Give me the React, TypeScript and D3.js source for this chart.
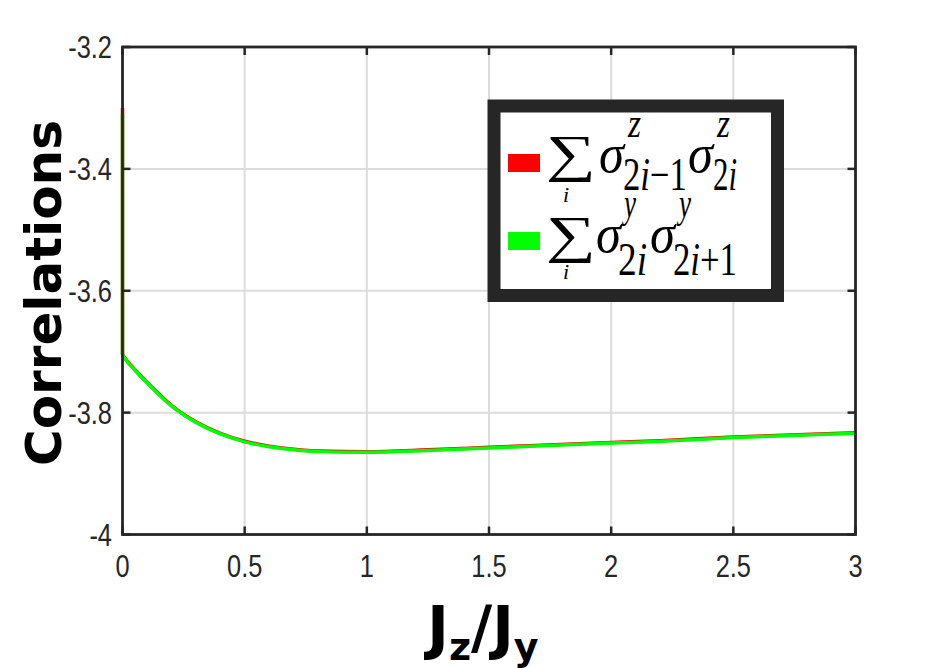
import React from "react";
import * as d3 from "d3";

const xTicks = [0, 0.5, 1, 1.5, 2, 2.5, 3];
const xTickLabels = ["0", "0.5", "1", "1.5", "2", "2.5", "3"];
const yTicks = [-4, -3.8, -3.6, -3.4, -3.2];
const yTickLabels = ["-4", "-3.8", "-3.6", "-3.4", "-3.2"];

const xs = [0, 0, 0.025, 0.05, 0.075, 0.1, 0.15, 0.2, 0.3, 0.4, 0.5, 0.6, 0.7, 0.8, 1.0, 1.25, 1.5, 2.0, 2.2, 2.5, 3.0];
const zzCorr = [-3.30, -3.705, -3.718, -3.729, -3.740, -3.750, -3.770, -3.788, -3.815, -3.834, -3.847, -3.855, -3.860, -3.863, -3.864, -3.861, -3.857, -3.849, -3.846, -3.840, -3.833];
const yyCorr = [-3.31, -3.706, -3.719, -3.730, -3.741, -3.751, -3.771, -3.789, -3.816, -3.835, -3.848, -3.856, -3.861, -3.864, -3.865, -3.862, -3.858, -3.850, -3.847, -3.841, -3.834];

const W = 945;
const H = 668;
const left = 122.5;
const right = 855.5;
const top = 47;
const bottom = 534.5;
const axisColor = "#262626";
const gridColor = "#dcdcdc";
const tickFont = "'Liberation Sans', Arial, sans-serif";
const mathFont = "'Liberation Serif', 'DejaVu Serif', serif";
const SA = "spacingAndGlyphs";

export default function App() {
  const x = d3.scaleLinear().domain([0, 3]).range([left, right]);
  const y = d3.scaleLinear().domain([-4, -3.2]).range([bottom, top]);
  const idx = xs.map((_, i) => i);
  const vLine = (vals: number[]) =>
    d3
      .line<number>()
      .x((i) => x(xs[i]))
      .y((i) => y(vals[i]))(idx.slice(0, 2)) || "";
  const cLine = (vals: number[]) =>
    d3
      .line<number>()
      .x((i) => x(xs[i]))
      .y((i) => y(vals[i]))
      .curve(d3.curveMonotoneX)(idx.slice(1)) || "";
  const tl = 8;

  return (
    <svg width={W} height={H} style={{ position: "absolute", left: 0, top: 0, background: "#fff" }}>
      <rect x={0} y={0} width={W} height={H} fill="#fff" />
      {/* grid */}
      {xTicks.map((t) => (
        <line key={"gx" + t} x1={x(t)} x2={x(t)} y1={top} y2={bottom} stroke={gridColor} strokeWidth={2} />
      ))}
      {yTicks.map((t) => (
        <line key={"gy" + t} x1={left} x2={right} y1={y(t)} y2={y(t)} stroke={gridColor} strokeWidth={2} />
      ))}
      {/* lines */}
      <path d={vLine(zzCorr)} fill="none" stroke="#ff0000" strokeWidth={3.5} />
      <path d={cLine(zzCorr)} fill="none" stroke="#ff0000" strokeWidth={3.5} strokeLinejoin="round" />
      <path d={vLine(yyCorr)} fill="none" stroke="#00ff00" strokeWidth={3.5} />
      <path d={cLine(yyCorr)} fill="none" stroke="#00ff00" strokeWidth={3.5} strokeLinejoin="round" />
      {/* ticks */}
      {xTicks.map((t) => (
        <g key={"tx" + t}>
          <line x1={x(t)} x2={x(t)} y1={bottom} y2={bottom - tl} stroke={axisColor} strokeWidth={2.5} />
          <line x1={x(t)} x2={x(t)} y1={top} y2={top + tl} stroke={axisColor} strokeWidth={2.5} />
        </g>
      ))}
      {yTicks.map((t) => (
        <g key={"ty" + t}>
          <line x1={left} x2={left + tl} y1={y(t)} y2={y(t)} stroke={axisColor} strokeWidth={2.5} />
          <line x1={right} x2={right - tl} y1={y(t)} y2={y(t)} stroke={axisColor} strokeWidth={2.5} />
        </g>
      ))}
      {/* axes box */}
      <rect x={left} y={top} width={right - left} height={bottom - top} fill="none" stroke={axisColor} strokeWidth={2.8} />
      {/* tick labels */}
      {xTicks.map((t, i) => (
        <g key={"lx" + t} transform={`translate(${x(t)},577)`}>
          <text transform="scale(0.82,1)" textAnchor="middle" fontFamily={tickFont} fontSize={31} fill={axisColor}>
            {xTickLabels[i]}
          </text>
        </g>
      ))}
      {yTicks.map((t, i) => (
        <g key={"ly" + t} transform={`translate(112,${y(t) + 11})`}>
          <text transform="scale(0.82,1)" textAnchor="end" fontFamily={tickFont} fontSize={31} fill={axisColor}>
            {yTickLabels[i]}
          </text>
        </g>
      ))}
      {/* axis titles */}
      <text
        transform={`translate(61,293) rotate(-90)`}
        textAnchor="middle"
        fontFamily="'DejaVu Sans', sans-serif"
        fontWeight="bold"
        fontSize={50}
        fill="#000"
      >
        Correlations
      </text>
      <text x={483} y={648} textAnchor="middle" fontFamily="'DejaVu Sans', sans-serif" fontWeight="bold" fontSize={58} fill="#000">
        J<tspan fontSize={38} dy={12}>z</tspan>
        <tspan dy={-12}>/J</tspan>
        <tspan fontSize={38} dy={12}>y</tspan>
      </text>
      {/* legend */}
      <rect x={494} y={106} width={283.5} height={189.5} fill="#fff" stroke={axisColor} strokeWidth={13} />
      <rect x={508} y={154} width={32} height={18} fill="#ff0000" />
      <rect x={508} y={232} width={32} height={18} fill="#00ff00" />
      <g fontFamily={mathFont} fill="#000">
        {/* row 1 */}
        <text x={546} y={171} fontSize={52} textLength={50} lengthAdjust={SA}>∑</text>
        <text x={563} y={202} fontSize={22} fontStyle="italic">i</text>
        <text x={599} y={172} fontSize={54} fontStyle="italic" textLength={25} lengthAdjust={SA}>σ</text>
        <text x={628} y={137} fontSize={42} fontStyle="italic" textLength={13} lengthAdjust={SA}>z</text>
        <text x={623} y={190} fontSize={46} textLength={64} lengthAdjust={SA}>
          2<tspan fontStyle="italic">i</tspan>−1
        </text>
        <text x={688} y={172} fontSize={54} fontStyle="italic" textLength={25} lengthAdjust={SA}>σ</text>
        <text x={717} y={137} fontSize={42} fontStyle="italic" textLength={13} lengthAdjust={SA}>z</text>
        <text x={713} y={190} fontSize={46} textLength={24} lengthAdjust={SA}>
          2<tspan fontStyle="italic">i</tspan>
        </text>
        {/* row 2 */}
        <text x={546} y={252} fontSize={52} textLength={50} lengthAdjust={SA}>∑</text>
        <text x={563} y={279} fontSize={22} fontStyle="italic">i</text>
        <text x={596} y={252} fontSize={54} fontStyle="italic" textLength={25} lengthAdjust={SA}>σ</text>
        <text x={624} y={217} fontSize={42} fontStyle="italic" textLength={12} lengthAdjust={SA}>y</text>
        <text x={618} y={275} fontSize={46} textLength={29} lengthAdjust={SA}>
          2<tspan fontStyle="italic">i</tspan>
        </text>
        <text x={650} y={252} fontSize={54} fontStyle="italic" textLength={25} lengthAdjust={SA}>σ</text>
        <text x={679} y={217} fontSize={42} fontStyle="italic" textLength={12} lengthAdjust={SA}>y</text>
        <text x={673} y={275} fontSize={46} textLength={64} lengthAdjust={SA}>
          2<tspan fontStyle="italic">i</tspan>+1
        </text>
      </g>
    </svg>
  );
}
